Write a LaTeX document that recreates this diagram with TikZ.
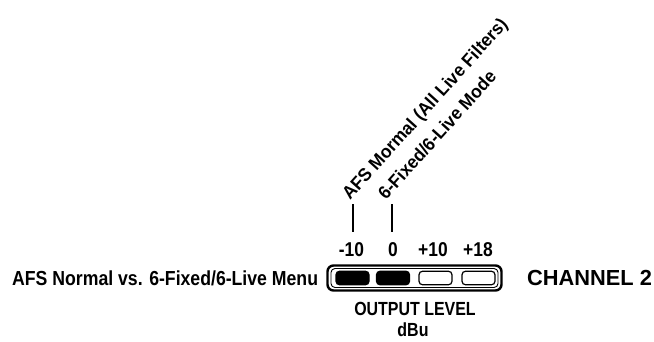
\documentclass[tikz,border=0pt]{standalone}
\usepackage{fontspec}
\usetikzlibrary{calc}
\setmainfont{Liberation Sans}
\newfontfamily\condA{Liberation Sans}[FakeStretch=0.87]
\newfontfamily\condR{Liberation Sans}[FakeStretch=0.95]
\newfontfamily\condB{Liberation Sans}[FakeStretch=0.84]
\begin{document}
\begin{tikzpicture}[x=1pt,y=-1pt,
  lbl/.style={font=\condA\bfseries\fontsize{20}{21}\selectfont, inner sep=0pt, anchor=base},
  big/.style={font=\bfseries\fontsize{21.8}{22}\selectfont, inner sep=0pt, anchor=base west},
  side/.style={font=\condA\bfseries\fontsize{20.3}{21}\selectfont, inner sep=0pt, anchor=base west},
  unit/.style={font=\condB\bfseries\fontsize{19}{20}\selectfont, inner sep=0pt, anchor=base},
  rot/.style={font=\condR\bfseries\fontsize{18.3}{19}\selectfont, inner sep=0pt, rotate=48, anchor=base west},
  led/.style={draw=black, line width=1.2pt, rounded corners=3.5pt, minimum width=33pt, minimum height=13.5pt, inner sep=0pt},
  ledon/.style={led, fill=black},
  tick/.style={line width=2pt}]
\useasboundingbox (0,0) rectangle (654,341);
% frame
\draw[line width=2.4pt, rounded corners=6pt] (327.5,265.5) rectangle (501.5,290.5);
\draw[line width=0.9pt, rounded corners=4pt] (331,268.5) rectangle (498,287.5);
% leds
\node[ledon] (l1) at (352.5,278) {};
\node[ledon] (l2) at (393,278) {};
\node[led] (l3) at (435.5,278) {};
\node[led] (l4) at (478.5,278) {};
% scale labels
\node[lbl] (s1) at (351.5,256.5) {-10};
\node[lbl] (s2) at (393,256.5) {0};
\node[lbl] (s3) at (433,256.5) {+10};
\node[lbl] (s4) at (478,256.5) {+18};
% ticks
\coordinate (t1) at (353,204);
\coordinate (t2) at (392,204);
\coordinate (b1) at (353,232);
\coordinate (b2) at (392,232);
\draw[tick] (t1) -- (b1);
\draw[tick] (t2) -- (b2);
% rotated labels
\node[rot] (r1) at ($(t1)+(-3,-3)$) {AFS Mormal (All Live Filters)};
\node[rot] (r2) at ($(t2)+(-6,-3)$) {6-Fixed/6-Live Mode};
% texts
\node[side] (menu) at (12,285.5) {AFS Normal vs. 6-Fixed/6-Live Menu};
\node[big] (ch) at (527,285.5) {CHANNEL 2};
\node[unit] (ol) at (415,315) {OUTPUT LEVEL};
\node[unit] (db) at (413,336) {dBu};
\end{tikzpicture}
\end{document}
